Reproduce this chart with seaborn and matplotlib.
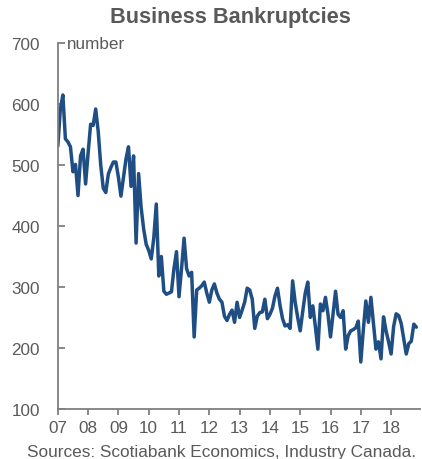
import numpy as np
import pandas as pd
import matplotlib
matplotlib.use("Agg")
import matplotlib.pyplot as plt
import seaborn as sns

# Monthly business bankruptcies, Jan 2007 - Nov 2018
values_2007 = [531, 592, 615, 543, 538, 530, 489, 501, 450, 515, 526, 469]
values_2008 = [520, 567, 565, 592, 555, 500, 462, 455, 485, 496, 505, 505]
values_2009 = [480, 449, 480, 510, 530, 465, 515, 372, 486, 430, 395, 370]
values_2010 = [360, 346, 380, 436, 318, 350, 293, 288, 290, 292, 330, 358]
values_2011 = [284, 330, 380, 330, 318, 324, 218, 295, 298, 302, 308, 290]
values_2012 = [275, 295, 305, 290, 280, 275, 252, 245, 255, 262, 242, 275]
values_2013 = [250, 262, 275, 298, 295, 280, 232, 252, 258, 259, 280, 248]
values_2014 = [255, 265, 285, 298, 270, 248, 236, 238, 232, 310, 275, 250]
values_2015 = [228, 260, 290, 308, 250, 269, 235, 198, 272, 261, 283, 255]
values_2016 = [218, 255, 293, 255, 250, 261, 198, 220, 228, 230, 233, 244]
values_2017 = [177, 230, 277, 242, 283, 240, 198, 210, 182, 251, 228, 210]
values_2018 = [190, 235, 256, 253, 240, 215, 190, 207, 211, 239, 234]

values = (values_2007 + values_2008 + values_2009 + values_2010 + values_2011
          + values_2012 + values_2013 + values_2014 + values_2015 + values_2016
          + values_2017 + values_2018)
year_labels = ["07", "08", "09", "10", "11", "12", "13", "14", "15", "16", "17", "18"]

df = pd.DataFrame({"t": 2007 + np.arange(len(values)) / 12, "count": values})

sns.set_style("white")
plt.rcParams["font.family"] = ["Liberation Sans", "DejaVu Sans"]

grey = "#595959"
fig = plt.figure(figsize=(4.22, 4.60), dpi=100)
ax = fig.add_axes([0.137, 0.109, 0.858, 0.795])

sns.lineplot(data=df, x="t", y="count", ax=ax, color="#1F4E84", linewidth=2.5)

ax.set_xlim(2007, 2018.95)
ax.set_ylim(100, 700)
ax.set_yticks(range(100, 701, 100))
ax.set_xticks([2007 + i for i in range(len(year_labels))])
ax.set_xticklabels(year_labels)
ax.set_xlabel("")
ax.set_ylabel("")

for s in ["top", "right"]:
    ax.spines[s].set_visible(False)
for s in ["left", "bottom"]:
    ax.spines[s].set_color("#7f7f7f")
    ax.spines[s].set_linewidth(1.3)

ax.tick_params(axis="y", direction="in", length=5, width=1.3, color="#7f7f7f",
               labelsize=12.3, labelcolor=grey, pad=13, left=True)
ax.tick_params(axis="x", direction="out", length=4, width=1.3, color="#7f7f7f",
               labelsize=12.3, labelcolor=grey, pad=4, bottom=True)
for t in ax.yaxis.get_major_ticks():
    t.tick1line.set_clip_on(False)

ax.text(0.025, 1.0, "number", transform=ax.transAxes, fontsize=12.3,
        color=grey, ha="left", va="center")

fig.text(0.545, 0.962, "Business Bankruptcies", fontsize=15.7, fontweight="bold",
         color=grey, ha="center", va="center")
fig.text(0.526, 0.017, "Sources: Scotiabank Economics, Industry Canada.",
         fontsize=12.4, color=grey, ha="center", va="center")

plt.savefig("out.png", dpi=100)
